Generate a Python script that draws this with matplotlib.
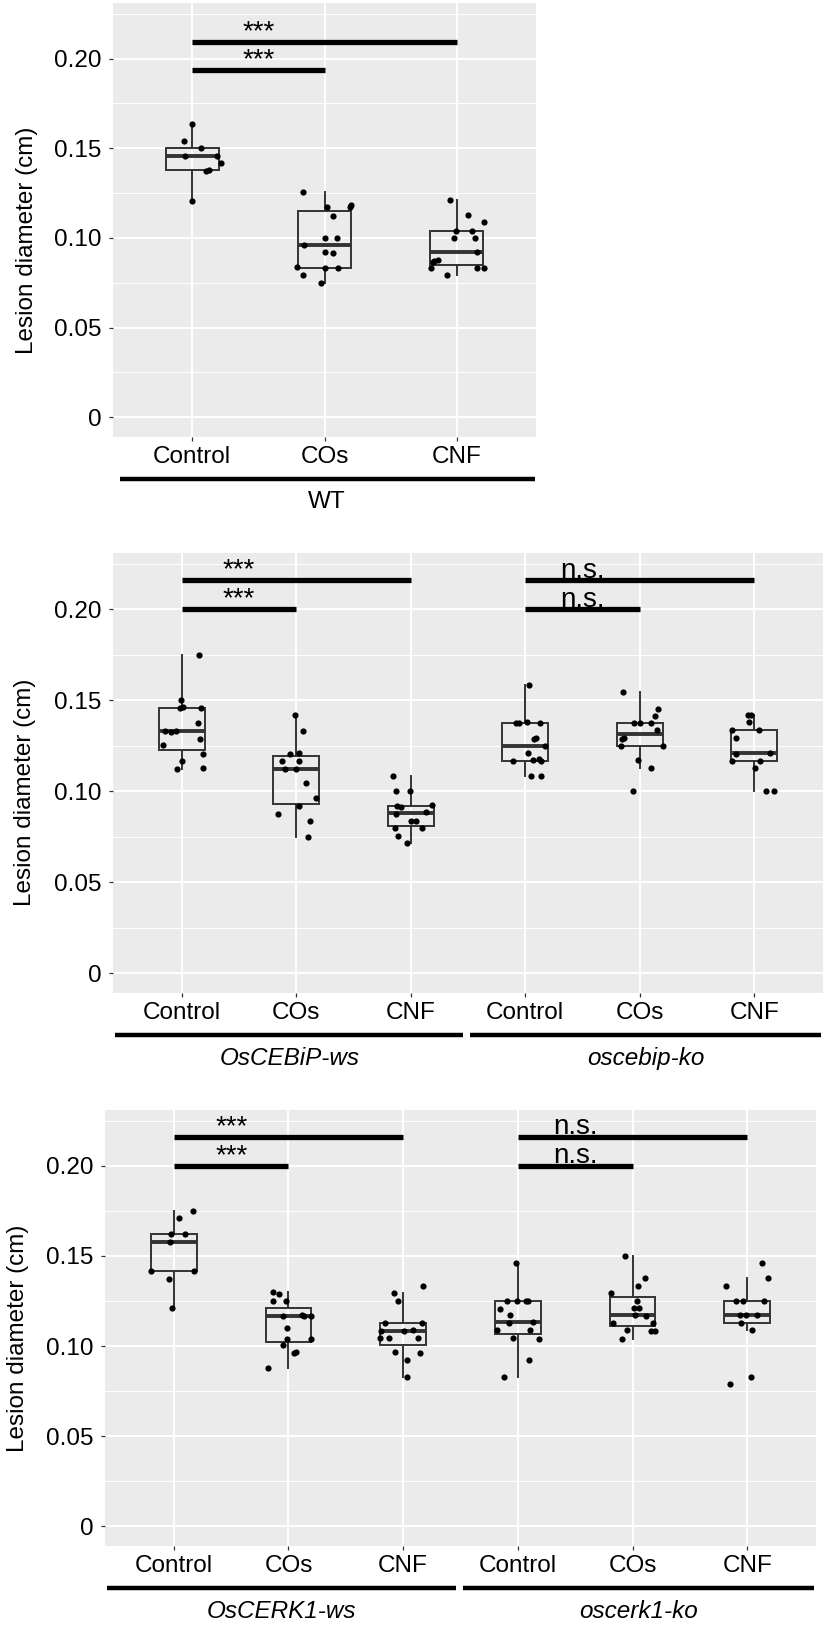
import numpy as np
import matplotlib.pyplot as plt
import matplotlib.transforms as mtransforms

plt.rcParams['font.family'] = ['Liberation Sans', 'DejaVu Sans']

# ==========================================
# DATA (lesion diameter, cm)
# ==========================================

TREATMENTS = ["Control", "COs", "CNF"]
YTICKS = [0, 0.05, 0.10, 0.15, 0.20]
YTICK_LABELS = ["0", "0.05", "0.10", "0.15", "0.20"]

# --- panel 1 : WT
wt_control = [0.1634, 0.1543, 0.1500, 0.1459, 0.1459, 0.1416, 0.1375, 0.1381, 0.1207]
wt_cos = [0.1257, 0.1172, 0.1172, 0.1181, 0.1123, 0.1000, 0.1000, 0.0961, 0.0920,
          0.0914, 0.0836, 0.0832, 0.0832, 0.0793, 0.0750]
wt_cnf = [0.1213, 0.1127, 0.1091, 0.1041, 0.1039, 0.1002, 0.1000, 0.0920, 0.0873,
          0.0875, 0.0867, 0.0834, 0.0834, 0.0834, 0.0791]

# --- panel 2 : OsCEBiP-ws / oscebip-ko
cebip_ws_control = [0.1750, 0.1501, 0.1464, 0.1457, 0.1457, 0.1374, 0.1331, 0.1328,
                    0.1331, 0.1289, 0.1252, 0.1202, 0.1167, 0.1123, 0.1125]
cebip_ws_cos = [0.1418, 0.1333, 0.1202, 0.1212, 0.1164, 0.1164, 0.1123, 0.1123,
                0.1044, 0.0961, 0.0917, 0.0875, 0.0836, 0.0747]
cebip_ws_cnf = [0.1081, 0.1000, 0.1000, 0.0917, 0.0915, 0.0922, 0.0875, 0.0887,
                0.0838, 0.0834, 0.0797, 0.0797, 0.0755, 0.0715]
cebip_ko_control = [0.1584, 0.1377, 0.1376, 0.1379, 0.1376, 0.1295, 0.1289, 0.1248,
                    0.1208, 0.1164, 0.1169, 0.1175, 0.1164, 0.1086, 0.1086]
cebip_ko_cos = [0.1545, 0.1453, 0.1412, 0.1376, 0.1376, 0.1376, 0.1335, 0.1295,
                0.1287, 0.1250, 0.1250, 0.1171, 0.1125, 0.1000]
cebip_ko_cnf = [0.1420, 0.1420, 0.1381, 0.1335, 0.1335, 0.1295, 0.1202, 0.1210,
                0.1164, 0.1166, 0.1125, 0.1000, 0.1000]

# --- panel 3 : OsCERK1-ws / oscerk1-ko
cerk_ws_control = [0.1752, 0.1711, 0.1624, 0.1624, 0.1578, 0.1417, 0.1418, 0.1374, 0.1209]
cerk_ws_cos = [0.1298, 0.1289, 0.1252, 0.1250, 0.1168, 0.1168, 0.1168, 0.1041,
               0.1041, 0.1004, 0.0961, 0.0967, 0.0880, 0.1172, 0.1100]
cerk_ws_cnf = [0.1335, 0.1296, 0.1252, 0.1128, 0.1128, 0.1083, 0.1083, 0.1089,
               0.1046, 0.1046, 0.1046, 0.0967, 0.0961, 0.0920, 0.0830]
cerk_ko_control = [0.1459, 0.1252, 0.1252, 0.1252, 0.1252, 0.1206, 0.1174, 0.1126,
                   0.1131, 0.1087, 0.1087, 0.1044, 0.1041, 0.0922, 0.0830]
cerk_ko_cos = [0.1500, 0.1380, 0.1333, 0.1293, 0.1252, 0.1213, 0.1209, 0.1170,
               0.1167, 0.1128, 0.1130, 0.1089, 0.1083, 0.1085, 0.1041]
cerk_ko_cnf = [0.1461, 0.1378, 0.1333, 0.1252, 0.1252, 0.1252, 0.1170, 0.1170,
               0.1170, 0.1128, 0.1087, 0.0790, 0.0830]

# horizontal jitter of each point (category units)
wt_control_jit = [0, -0.065, 0.068, -0.057, 0.187, 0.214, 0.100, 0.130, 0]
wt_cos_jit = [-0.165, 0.019, 0.195, 0.203, 0.062, 0.003, 0.092, -0.157, 0.005,
              0.068, -0.206, 0.003, 0.100, -0.160, -0.027]
wt_cnf_jit = [-0.051, 0.084, 0.203, -0.005, 0.114, -0.024, 0.138, 0.157, -0.168,
              -0.141, -0.182, -0.198, 0.152, 0.206, -0.070]
cebip_ws_control_jit = [0.155, -0.009, 0.015, -0.018, 0.167, 0.140, -0.149, -0.091,
                        -0.047, 0.164, -0.167, 0.187, 0, -0.044, 0.190]
cebip_ws_cos_jit = [-0.012, 0.056, -0.058, 0.023, -0.123, 0.023, -0.096, 0, 0.085,
                    0.175, 0.026, -0.161, 0.123, 0.099]
cebip_ws_cnf_jit = [-0.155, -0.129, -0.006, -0.117, -0.088, 0.184, -0.126, 0.137, 0,
                    0.050, -0.137, 0.102, -0.114, -0.035]
cebip_ko_control_jit = [0.035, -0.085, -0.058, 0.015, 0.132, 0.096, 0.079, 0.170,
                        0.023, -0.105, 0.067, 0.117, 0.135, 0.047, 0.137]
cebip_ko_cos_jit = [-0.146, 0.161, 0.129, -0.053, 0.006, 0.099, 0.152, -0.135,
                    -0.155, -0.161, 0.199, -0.018, 0.102, -0.056]
cebip_ko_cnf_jit = [-0.056, -0.026, -0.044, -0.196, 0.041, -0.158, -0.161, 0.135,
                    -0.199, 0.053, 0.006, 0.102, 0.170]
cerk_ws_control_jit = [0.169, 0.041, -0.026, 0.096, -0.029, -0.195, 0.172, -0.044, -0.020]
cerk_ws_cos_jit = [-0.134, -0.079, -0.134, -0.023, -0.050, 0.131, 0.192, -0.009,
                   0.192, -0.050, 0.044, 0.062, -0.175, 0.120, -0.010]
cerk_ws_cnf_jit = [0.175, -0.082, -0.041, -0.155, 0.163, -0.195, 0.009, 0.087,
                   -0.201, -0.122, 0.131, -0.067, 0.146, 0.035, 0.035]
cerk_ko_control_jit = [-0.015, -0.093, -0.003, 0.070, 0.090, -0.157, -0.064, -0.073,
                       0.128, -0.184, 0.108, -0.044, 0.187, 0.096, -0.120]
cerk_ko_cos_jit = [-0.064, 0.108, 0.047, -0.184, 0.041, 0.015, 0.058, 0.023, 0.114,
                   -0.169, 0.178, -0.044, 0.157, 0.198, -0.096]
cerk_ko_cnf_jit = [0.125, 0.184, -0.184, -0.096, -0.035, 0.149, -0.067, -0.009,
                   0.087, -0.050, 0.044, -0.150, 0.030]

# significance annotations: (from, to, height, label)
wt_sig = [(1, 3, 0.2095, "***"), (1, 2, 0.1939, "***")]
cebip_sig = [(1, 3, 0.216, "***"), (1, 2, 0.200, "***"),
             (4, 6, 0.216, "n.s."), (4, 5, 0.200, "n.s.")]
cerk_sig = [(1, 3, 0.216, "***"), (1, 2, 0.200, "***"),
            (4, 6, 0.216, "n.s."), (4, 5, 0.200, "n.s.")]

# ==========================================
# STYLE
# ==========================================

BG = "#EBEBEB"
EDGE = "#333333"
FS = 17.5
YLIM = (-0.011, 0.231)

fig = plt.figure(figsize=(8.27, 16.25), dpi=100)


def px_axes(left, top, right, bottom):
    W, H = 827, 1625
    return fig.add_axes([left / W, 1 - bottom / H, (right - left) / W, (bottom - top) / H])


def draw_panel(ax, groups, jitters, sigs, group_names, italic):
    n = len(groups)
    pos = np.arange(1, n + 1)

    ax.set_facecolor(BG)
    for s in ax.spines.values():
        s.set_visible(False)

    ax.set_xlim(0.4, n + 0.6)
    ax.set_ylim(*YLIM)
    ax.set_yticks(YTICKS)
    ax.set_yticklabels(YTICK_LABELS)
    ax.set_yticks([0.025, 0.075, 0.125, 0.175, 0.225], minor=True)
    ax.set_xticks(pos)
    ax.set_xticklabels(TREATMENTS * (n // 3))
    ax.grid(True, which="major", color="white", linewidth=1.4)
    ax.grid(True, which="minor", axis="y", color="white", linewidth=0.7)
    ax.set_axisbelow(True)
    ax.tick_params(axis="both", which="major", labelsize=FS, color=EDGE,
                   width=0.9, length=3, labelcolor="black")
    ax.tick_params(axis="y", which="major", pad=5.5)
    ax.tick_params(axis="x", which="major", pad=3.5)
    ax.tick_params(which="minor", length=0)

    ax.boxplot(groups, positions=pos, widths=0.4, whis=1.5,
               showfliers=False, showcaps=False, patch_artist=True,
               boxprops=dict(facecolor="none", edgecolor=EDGE, linewidth=1.4),
               medianprops=dict(color=EDGE, linewidth=2.8),
               whiskerprops=dict(color=EDGE, linewidth=1.4),
               manage_ticks=False, zorder=2)

    for p, vals, jit in zip(pos, groups, jitters):
        ax.scatter(p + np.array(jit), vals, s=20, color="black",
                   linewidths=0, zorder=3)

    # label sits over the first pair of every bracket
    for x1, x2, y, lab in sigs:
        ax.plot([x1, x2], [y, y], color="black", linewidth=3.8,
                solid_capstyle="butt", zorder=4)
        ax.text(x1 + 0.5, y + 0.0015, lab, ha="center",
                va="baseline", fontsize=20, zorder=5)

    # group brackets under the tick labels
    base = mtransforms.blended_transform_factory(ax.transData, ax.transAxes)
    line_tr = base + mtransforms.ScaledTranslation(0, -0.42, fig.dpi_scale_trans)
    text_tr = base + mtransforms.ScaledTranslation(0, -0.655, fig.dpi_scale_trans)
    if len(group_names) == 1:
        spans = [(0.45, 3.59)]
    else:
        spans = [(0.42, 3.46), (3.52, 6.58)]
    for (a, b), name in zip(spans, group_names):
        ax.plot([a, b], [0, 0], transform=line_tr, color="black",
                linewidth=3.2, solid_capstyle="butt", clip_on=False)
        ax.text((a + b) / 2, 0, name, transform=text_tr, ha="center",
                va="center", fontsize=FS,
                style="italic" if italic else "normal")


ax1 = px_axes(113, 3, 536, 437)
draw_panel(ax1, [wt_control, wt_cos, wt_cnf],
           [wt_control_jit, wt_cos_jit, wt_cnf_jit],
           wt_sig, ["WT"], False)

ax2 = px_axes(113, 553, 823, 993)
draw_panel(ax2, [cebip_ws_control, cebip_ws_cos, cebip_ws_cnf,
                 cebip_ko_control, cebip_ko_cos, cebip_ko_cnf],
           [cebip_ws_control_jit, cebip_ws_cos_jit, cebip_ws_cnf_jit,
            cebip_ko_control_jit, cebip_ko_cos_jit, cebip_ko_cnf_jit],
           cebip_sig, ["OsCEBiP-ws", "oscebip-ko"], True)

ax3 = px_axes(105, 1110, 816, 1546)
draw_panel(ax3, [cerk_ws_control, cerk_ws_cos, cerk_ws_cnf,
                 cerk_ko_control, cerk_ko_cos, cerk_ko_cnf],
           [cerk_ws_control_jit, cerk_ws_cos_jit, cerk_ws_cnf_jit,
            cerk_ko_control_jit, cerk_ko_cos_jit, cerk_ko_cnf_jit],
           cerk_sig, ["OsCERK1-ws", "oscerk1-ko"], True)

# y axis titles
for x, yc in [(27, 240), (25, 792), (18, 1338)]:
    fig.text(x / 827, 1 - yc / 1625, "Lesion diameter (cm)", rotation=90,
             ha="center", va="center", fontsize=FS)

fig.savefig("out.png", dpi=100)
